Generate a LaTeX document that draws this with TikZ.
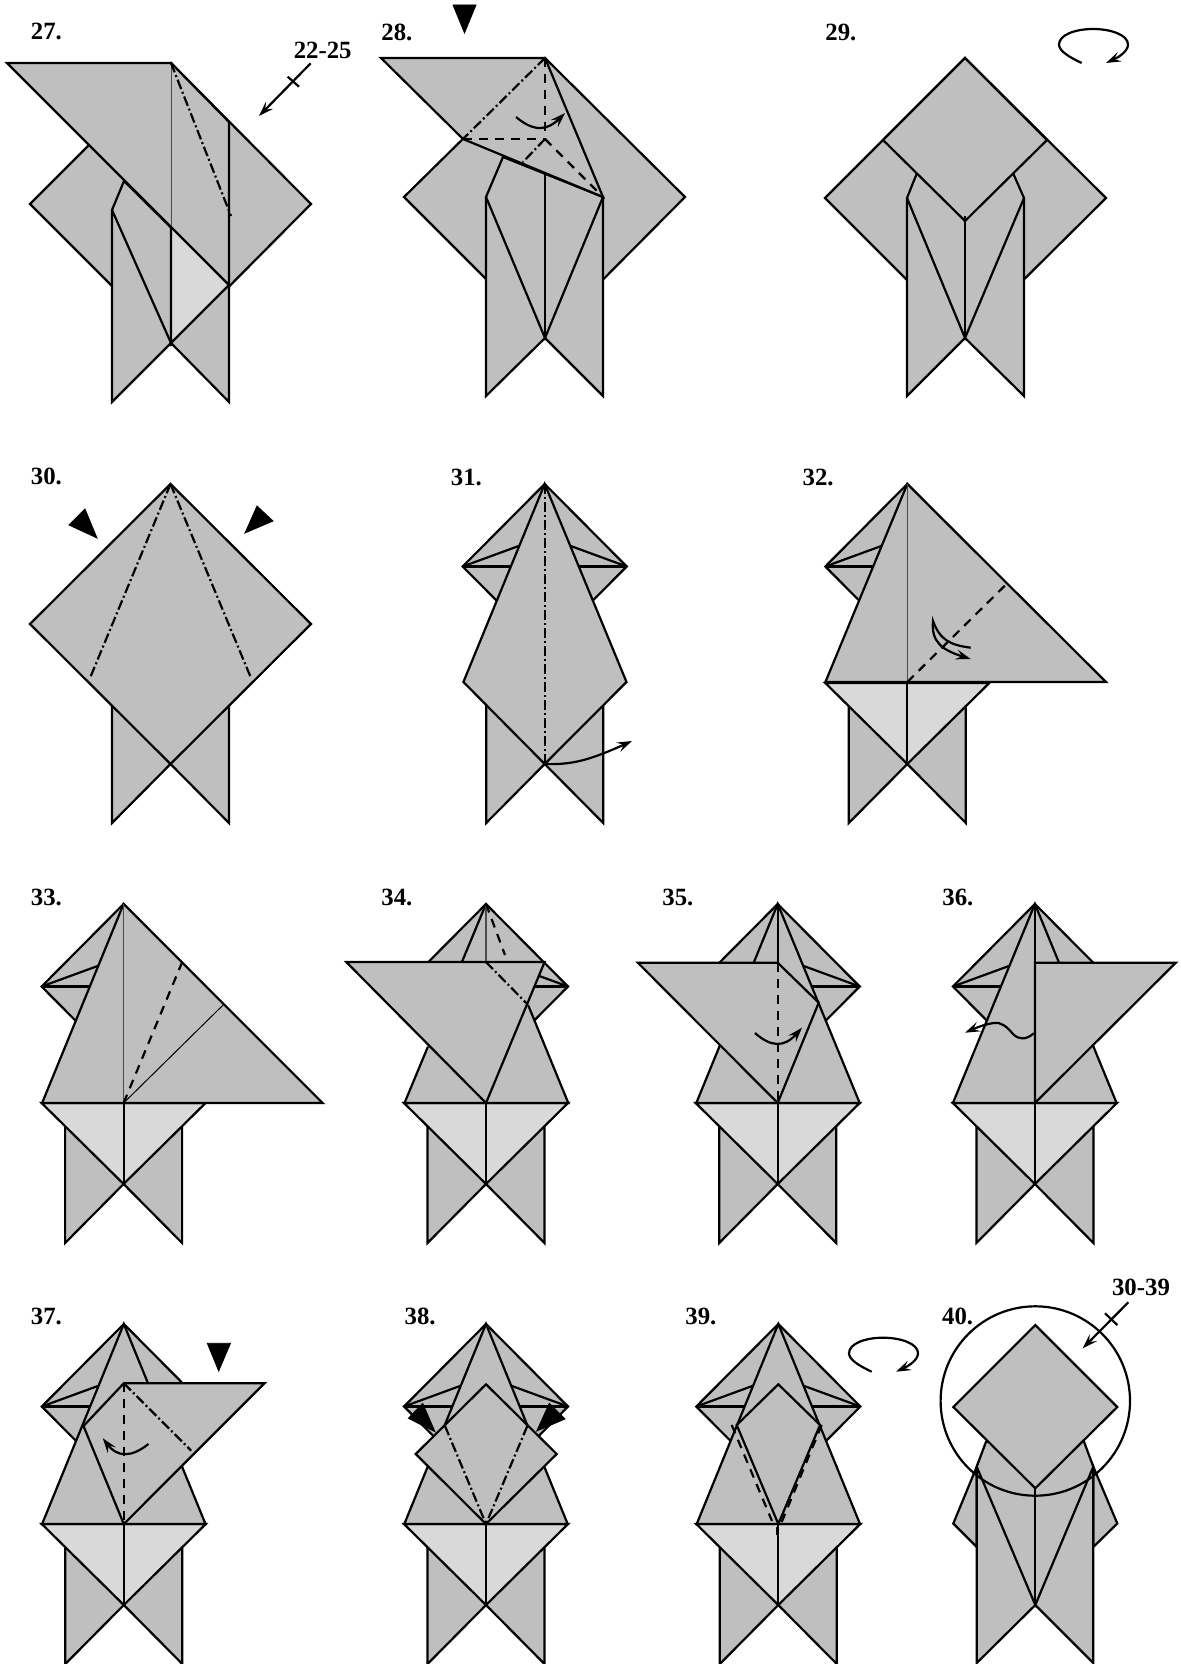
\documentclass[tikz,border=0pt]{standalone}
\usepackage{fontspec}
\setmainfont{Liberation Serif}
\usetikzlibrary{arrows.meta}

\definecolor{papergray}{gray}{0.75}
\definecolor{litegray}{gray}{0.85}

\begin{document}
\begin{tikzpicture}[
    x=0.5pt, y=-0.5pt,
    >={Stealth[length=7.5pt,width=5pt,inset=3pt]},
    paper/.style={fill=papergray, draw=black, line width=1.1pt},
    litepaper/.style={fill=litegray, draw=black, line width=1.1pt},
    edge/.style={draw=black, line width=1.1pt},
    hairline/.style={draw=black!70, line width=0.5pt},
    valley/.style={draw=black, line width=1.1pt, dash pattern=on 4.5pt off 3.5pt},
    mountain/.style={draw=black, line width=1.1pt, dash pattern=on 5pt off 1.5pt on 1pt off 1.5pt},
    pushmark/.style={fill=black},
    foldarrow/.style={draw=black, line width=1.1pt, ->},
    steplabel/.style={font=\bfseries\fontsize{12.4}{14}\selectfont, inner sep=0pt}
]

\useasboundingbox (0,0) rectangle (1180,1664);

% -------- Repeating parts --------
\def\legpair#1#2{\draw[paper] (#1-58.5,#2-58) -- (#1-58.5,#2+59) -- (#1,#2) -- (#1+58.5,#2+59) -- (#1+58.5,#2-58) -- cycle;}
\def\litebib#1#2{\draw[litepaper] (#1-82,#2-81) -- (#1,#2) -- (#1+82,#2-81) -- cycle;
    \draw[edge] (#1,#2-81) -- (#1,#2);}
\def\headback#1#2{\draw[paper] (#1,#2) -- (#1-82,#2+82.5) -- (#1,#2+165) -- (#1+82,#2+82.5) -- cycle;
    \draw[edge] (#1-82,#2+82.5) -- (#1+82,#2+82.5);
    \draw[edge] (#1-82,#2+82.5) -- (#1-26,#2+62);
    \draw[edge] (#1+82,#2+82.5) -- (#1+26,#2+62);}
\def\turnover#1#2{\draw[foldarrow, shift={(#1,#2)}] (22.7,34) .. controls (10,28) and (0,22) .. (0,15.5)
    .. controls (0,6) and (16,0) .. (34,0) .. controls (52,0) and (69,6) .. (69,15.5)
    .. controls (69,23) and (58,29) .. (47,34);}

% -------- Step numbers --------
\foreach \n/\x/\y in {27/30.5/31.7, 28/381/32, 29/825/32,
                      30/30.5/476, 31/450.5/477, 32/802.2/477,
                      33/30.5/897, 34/381/897, 35/662/897, 36/942/897,
                      37/30.5/1316.7, 38/404.2/1316.7, 39/685/1316.7, 40/941.7/1316.7} {
    \node[steplabel, anchor=west] (label\n) at (\x,\y) {\n.};
}

% -------- 27 --------
\draw[paper] (30,204) -- (171,63) -- (311,204) -- (171,345) -- cycle;
\draw[paper] (124,181) -- (112,210) -- (112,402) -- (171,343) -- (229,402) -- (229,285) -- cycle;
\draw[litepaper] (171,226) -- (229,285) -- (171,343) -- cycle;
\draw[paper] (7,63) -- (171,63) -- (229,122) -- (229,285) -- cycle;
\draw[edge] (229,285) -- (229,402);
\draw[edge] (112,210) -- (171,343);
\draw[edge] (171,226) -- (171,343);
\draw[hairline] (171,63) -- (171,226);
\draw[mountain] (171,63) -- (231,216);
\node[steplabel] (range27) at (322.7,50) {22-25};
\coordinate (from27) at (310.7,63.3);
\coordinate (to27) at (259,116);
\draw[foldarrow] (from27) -- (to27);
\draw[edge] (287.7,76.7) -- (299,86.7);

% -------- 28 --------
\draw[pushmark] (453,5) -- (476,5) -- (464.5,33) -- cycle;
\draw[paper] (404,197) -- (545,58) -- (685,197) -- (545,338) -- cycle;
\draw[paper] (503,157) -- (486,197) -- (486,396) -- (545,338) -- (603,396) -- (603,197) -- cycle;
\draw[paper] (381,58) -- (545,58) -- (603,197) -- (463,139) -- cycle;
\draw[edge] (545,174) -- (545,338);
\draw[edge] (486,197) -- (545,338) -- (603,197);
\draw[mountain] (545,58) -- (463,139);
\draw[valley] (545,58) -- (545,139);
\draw[valley] (463,139) -- (545,139);
\draw[mountain] (545,139) -- (523,162);
\draw[valley] (545,139) -- (603,197);
\draw[foldarrow] (516,117) .. controls (535,133) and (548,130) .. (565,113);

% -------- 29 --------
\draw[paper] (965,58) -- (825,198) -- (965,338) -- (1106,198) -- cycle;
\draw[paper] (917,173) -- (907,198) -- (907,396) -- (965,338) -- (1024,396) -- (1024,198) -- (1013,173) -- cycle;
\draw[paper] (965,58) -- (883,140) -- (965,221) -- (1047,140) -- cycle;
\draw[edge] (965,216) -- (965,338);
\draw[edge] (907,198) -- (965,338) -- (1024,198);
\turnover{1059}{29}

% -------- 30 --------
\legpair{170.5}{764}
\draw[paper] (170.5,484) -- (30,624) -- (170.5,764) -- (311,624) -- cycle;
\draw[mountain] (170.5,484) -- (90,678);
\draw[mountain] (170.5,484) -- (251,678);
\draw[pushmark] (69,525) -- (85,509) -- (97,538) -- cycle;
\draw[pushmark] (245,533) -- (257,506) -- (273,521) -- cycle;

% -------- 31 --------
\headback{544.7}{484}
\legpair{544.7}{764}
\draw[paper] (544.7,484) -- (463.4,682) -- (544.7,764) -- (626.5,682) -- cycle;
\draw[mountain] (544.7,484) -- (544.7,764);
\draw[foldarrow] (544.7,764) .. controls (572,765) and (590,760) .. (632,741);

% -------- 32 --------
\headback{907.3}{484}
\legpair{907.3}{764}
\litebib{907.3}{764}
\draw[paper] (907.3,484) -- (825.4,682) -- (1106,682) -- cycle;
\draw[hairline] (907.3,484) -- (907.3,682);
\draw[valley] (907.3,682) -- (1006.5,584);
\draw[foldarrow] (970.7,647.7) .. controls (950,645) and (940,640) .. (933,621)
    .. controls (931,642) and (942,650) .. (970.7,659);

% -------- 33 --------
\headback{123.6}{904}
\legpair{123.6}{1184}
\litebib{123.6}{1184}
\draw[paper] (123.6,904) -- (42.1,1103) -- (322.6,1103) -- cycle;
\draw[hairline, line width=0.7pt] (123.6,904) -- (123.6,1103);
\draw[hairline, draw=black] (123.6,1103) -- (223.1,1005);
\draw[valley] (123.6,1103) -- (181.8,963);

% -------- 34 --------
\headback{486}{904}
\legpair{486}{1184}
\litebib{486}{1184}
\fill[papergray] (486,904) -- (404.5,1103) -- (568.3,1103) -- cycle;
\draw[edge] (528.1,1005) -- (568.3,1103) -- (404.5,1103) -- (427.9,1046.7);
\draw[edge] (486,904) -- (461.9,962);
\draw[hairline, line width=0.7pt] (486,904) -- (486,962);
\draw[valley] (486,904) -- (505,955);
\draw[paper] (346.3,962) -- (544.6,962) -- (486,1103) -- cycle;
\draw[mountain] (486,962) -- (526.2,1003);

% -------- 35 --------
\headback{777.7}{904}
\legpair{777.7}{1184}
\litebib{777.7}{1184}
\draw[paper] (777.7,904) -- (696.3,1103) -- (859.7,1103) -- cycle;
\draw[edge] (777.7,904) -- (777.7,962.7);
\draw[paper] (637.8,962.7) -- (777.7,962.7) -- (818.7,1002.7) -- (777.7,1103) -- cycle;
\draw[valley] (777.7,962.7) -- (777.7,1103);
\draw[foldarrow] (754.9,1033) .. controls (771,1047) and (784,1048) .. (802,1027.7);

% -------- 36 --------
\headback{1034.9}{904}
\legpair{1034.9}{1184}
\litebib{1034.9}{1184}
\draw[paper] (1034.9,904) -- (952.9,1103) -- (1116.6,1103) -- cycle;
\draw[paper] (1034.9,962.7) -- (1175.8,962.7) -- (1034.9,1103) -- cycle;
\draw[edge] (1034.9,904) -- (1034.9,1103);
\draw[foldarrow] (1033.8,1033.3) .. controls (1026,1040) and (1019,1040) .. (1013,1034)
    .. controls (1007,1027) and (1002,1022) .. (994,1023) .. controls (986,1024) and (978,1027) .. (965,1032.7);

% -------- 37 --------
\headback{123.8}{1324}
\legpair{123.8}{1605}
\litebib{123.8}{1605}
\draw[paper] (123.8,1324) -- (42.1,1524) -- (205.5,1524) -- cycle;
\draw[paper] (123.8,1383.3) -- (264.4,1383.3) -- (123.8,1524) -- (83.5,1426) -- cycle;
\draw[valley] (123.8,1383.3) -- (123.8,1524);
\draw[mountain] (123.8,1383.3) -- (191.2,1450.7);
\draw[foldarrow] (148.4,1444) .. controls (131,1458) and (117,1457) .. (102.8,1438.3);
\draw[pushmark] (207.3,1343.3) -- (230.5,1343.3) -- (218.7,1371) -- cycle;

% -------- 38 --------
\headback{486}{1324}
\legpair{486}{1605}
\litebib{486}{1605}
\draw[paper] (486,1324) -- (404.3,1524) -- (567.7,1524) -- cycle;
\draw[paper] (486,1384.3) -- (415.7,1454) -- (486,1524) -- (556.7,1454) -- cycle;
\draw[mountain] (445,1426) -- (486,1524);
\draw[mountain] (527.3,1426) -- (486,1524);
\draw[pushmark] (408.3,1418.3) -- (422.7,1403.3) -- (435,1431.7) -- cycle;
\draw[pushmark] (536.7,1431) -- (549.3,1403.3) -- (565,1419) -- cycle;

% -------- 39 --------
\headback{778.3}{1324}
\legpair{778.3}{1605}
\litebib{778.3}{1605}
\draw[paper] (778.3,1324) -- (696.7,1524) -- (860,1524) -- cycle;
\draw[paper] (736.7,1425) -- (778.3,1384.3) -- (820,1425) -- (778.3,1524) -- cycle;
\draw[valley] (731.7,1425) -- (772,1521);
\draw[valley] (821.7,1425) -- (781.7,1522);
\draw[edge] (777.5,1527) -- (777.5,1535);
\turnover{849}{1337.7}

% -------- 40 --------
\draw[paper] (976.7,1466.7) -- (953.3,1523.5) -- (976.7,1547) -- cycle;
\draw[paper] (1093.3,1466.7) -- (1117.3,1523.5) -- (1093.3,1547) -- cycle;
\draw[paper] (986,1441.7) -- (976.7,1466.7) -- (976.7,1663) -- (1035.3,1605) -- (1093.3,1663) -- (1093.3,1466.7) -- (1084,1441.7) -- cycle;
\draw[paper] (1035.3,1325) -- (953.3,1407) -- (1035.3,1488.3) -- (1117.3,1407) -- cycle;
\draw[edge] (1035.3,1488.3) -- (1035.3,1605);
\draw[edge] (976.7,1466.7) -- (1035.3,1605) -- (1093.3,1466.7);
\draw[edge] (1035.3,1401) circle [radius=94.7];
\node[steplabel] (range40) at (1141,1287.3) {30-39};
\coordinate (from40) at (1128.3,1302.3);
\coordinate (to40) at (1082.7,1348.3);
\draw[foldarrow] (from40) -- (to40);
\draw[edge] (1105,1313.3) -- (1117.3,1325);

\end{tikzpicture}
\end{document}
